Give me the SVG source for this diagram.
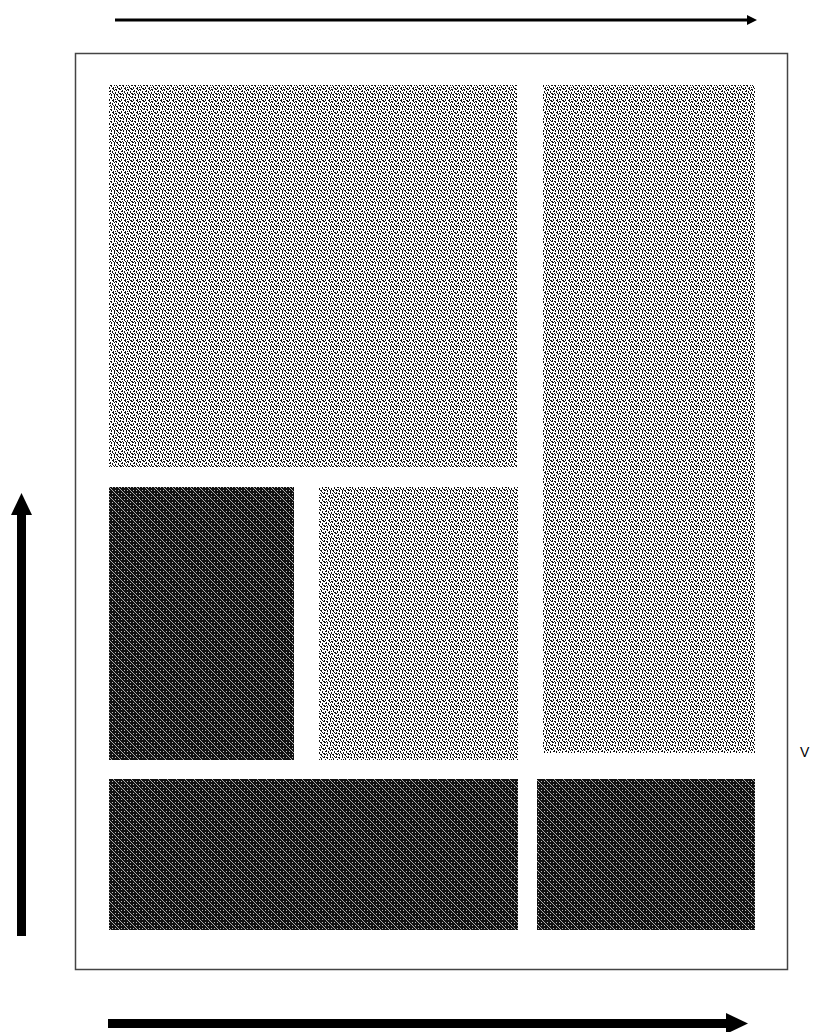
<svg xmlns="http://www.w3.org/2000/svg" width="813" height="1032" viewBox="0 0 813 1032">
  <style>
    .light { fill: url(#lightPat); }
    .dark { fill: url(#darkPat); }
    .frame { fill: #ffffff; stroke: #444444; stroke-width: 1.5; }
    .ink { fill: #000000; }
    .lbl { font-family: "Liberation Sans", Arial, sans-serif; font-size: 14px; fill: #000000; }
  </style>
  <defs>
    <pattern id="lightPat" patternUnits="userSpaceOnUse" width="12" height="12">
      <rect width="12" height="12" fill="#ffffff"/>
      <path fill="#111111" shape-rendering="crispEdges" d="M0 0h1v2h-1z M3 1h1v2h-1z M6 0h1v2h-1z M9 2h1v2h-1z M1 3h1v2h-1z M5 3h1v2h-1z M8 5h1v2h-1z M11 4h1v2h-1z M2 6h1v2h-1z M4 7h1v2h-1z M7 8h1v2h-1z M10 7h1v2h-1z M0 9h1v2h-1z M3 10h1v2h-1z M6 10h1v2h-1z M9 10h1v2h-1z M5 5h1v1h-1z M2 1h1v1h-1z M7 3h1v1h-1z M10 0h1v1h-1z M1 7h1v1h-1z M11 9h1v1h-1z M8 1h1v1h-1z M6 6h1v1h-1z M2 9h1v1h-1z M4 4h1v1h-1z M11 1h1v1h-1z M8 10h1v1h-1z M0 5h1v1h-1z M10 4h1v1h-1z M5 9h1v1h-1z M1 10h1v1h-1z M7 5h1v1h-1z"/>
    </pattern>
    <pattern id="darkPat" patternUnits="userSpaceOnUse" width="9" height="9">
      <rect width="9" height="9" fill="#111111"/>
      <path fill="#bbbbbb" shape-rendering="crispEdges" d="M1 4h1v1h-1z M4 1h1v1h-1z M7 1h1v1h-1z M1 7h1v1h-1z M4 7h1v1h-1z M7 4h1v1h-1z"/>
      <path fill="#aaaaaa" shape-rendering="crispEdges" d="M0 0h1v1h-1z M1 1h1v1h-1z M2 2h1v1h-1z M3 3h1v1h-1z M4 4h1v1h-1z M5 5h1v1h-1z M6 6h1v1h-1z M7 7h1v1h-1z M8 8h1v1h-1z"/>
    </pattern>
  </defs>
  <rect width="813" height="1032" fill="#ffffff"/>
  <g id="frame">
    <rect class="frame" x="75.5" y="53.5" width="712" height="916"/>
  </g>
  <g id="block-top-left">
    <rect class="light" x="109" y="85" width="408" height="382"/>
  </g>
  <g id="block-right-tall">
    <rect class="light" x="543" y="85" width="212" height="668"/>
  </g>
  <g id="block-mid-left">
    <rect class="dark" x="109" y="487" width="185" height="273"/>
  </g>
  <g id="block-mid-center">
    <rect class="light" x="319" y="487" width="199" height="273"/>
  </g>
  <g id="block-bottom-left">
    <rect class="dark" x="109" y="779" width="409" height="151"/>
  </g>
  <g id="block-bottom-right">
    <rect class="dark" x="537" y="779" width="218" height="151"/>
  </g>
  <g id="label">
    <text class="lbl" x="800" y="757">V</text>
  </g>
  <g id="connectors">
    <path d="M115 20H749" stroke="#000" stroke-width="3" fill="none"/>
    <polygon class="ink" points="747,15 757,20 747,25"/>
    <path d="M21.5 936V512" stroke="#000" stroke-width="9" fill="none"/>
    <polygon class="ink" points="11,515 21.5,493 32,515"/>
    <path d="M108 1023.5H730" stroke="#000" stroke-width="9" fill="none"/>
    <polygon class="ink" points="726,1013 748,1023.5 726,1034"/>
  </g>
</svg>
